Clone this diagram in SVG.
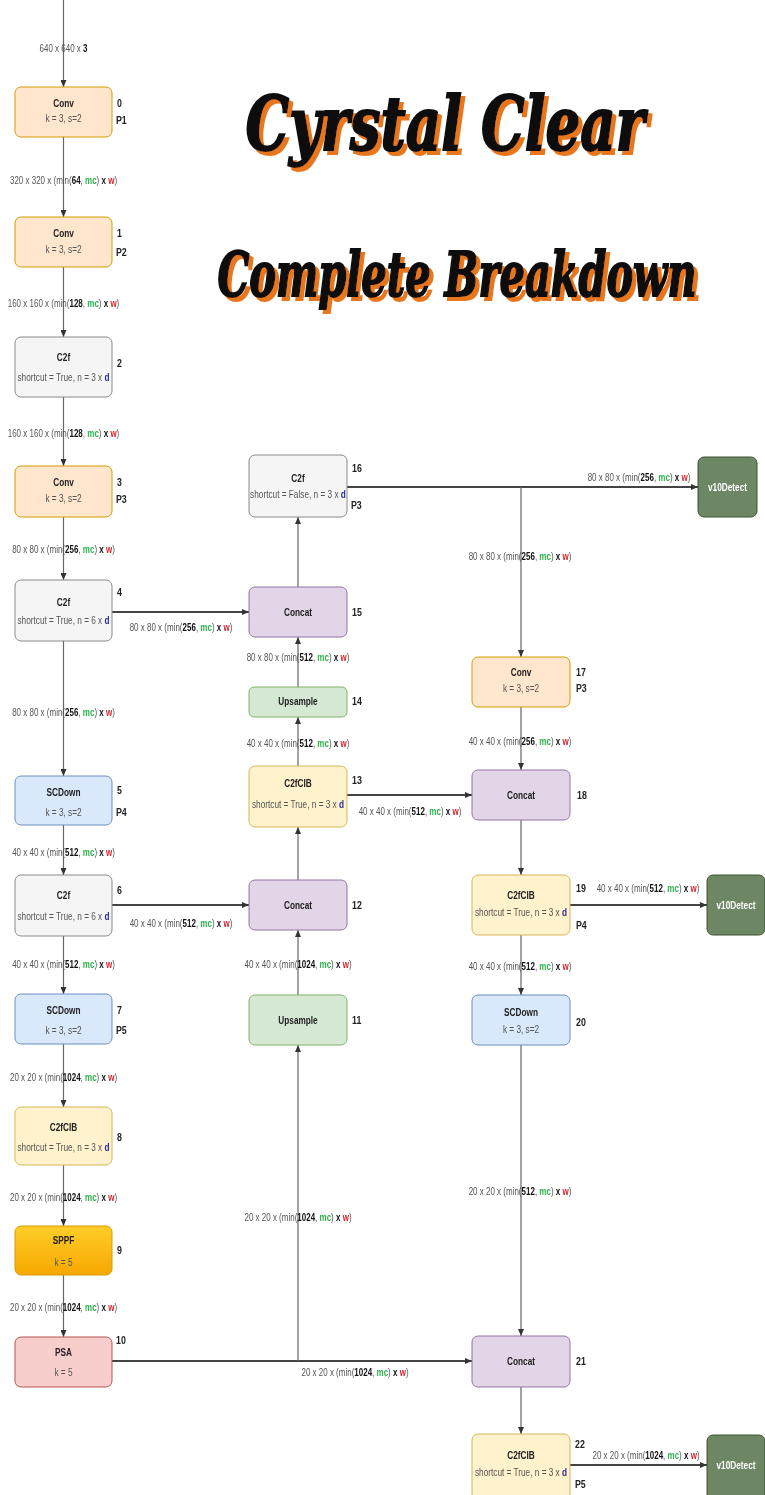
<svg xmlns="http://www.w3.org/2000/svg" width="765" height="1495" viewBox="0 0 765 1495">
<style>
text{font-family:"Liberation Sans",Arial,sans-serif}
.nt{font-size:11px;font-weight:bold;fill:#222;text-anchor:middle}
.np{font-size:11px;fill:#555;text-anchor:middle}
.ix{font-size:11px;font-weight:bold;fill:#222}
.lb{font-size:10px;fill:#555;text-anchor:middle}
.b{font-weight:bold;fill:#111}
.g{font-weight:bold;fill:#2eb34d}
.r{font-weight:bold;fill:#d8232a}
.d{font-weight:bold;fill:#2c2c9c}
.conv{fill:#ffe6cc;stroke:#d79b00}
.c2f{fill:#f5f5f5;stroke:#8a8a8a}
.scd{fill:#dae8fc;stroke:#6c8ebf}
.cib{fill:#fff2cc;stroke:#d6b656}
.sppf{fill:url(#gold);stroke:#d79b00}
.psa{fill:#f8cecc;stroke:#b85450}
.cat{fill:#e1d5e7;stroke:#9673a6}
.up{fill:#d5e8d4;stroke:#82b366}
.det{fill:#6d8764;stroke:#3a5431}
rect{stroke-width:1}
.dt{font-size:11px;font-weight:bold;fill:#fff;text-anchor:middle}
.v{stroke:#666;stroke-width:1.2;fill:none}
.h{stroke:#444;stroke-width:2;fill:none}
.title{font-family:"DejaVu Serif","Liberation Serif",serif;font-weight:bold;font-style:italic;text-anchor:middle;fill:#111;stroke:#111;stroke-width:2}
</style>
<defs>
<linearGradient id="gold" x1="0" y1="0" x2="0" y2="1"><stop offset="0" stop-color="#ffcd28"/><stop offset="1" stop-color="#f6a800"/></linearGradient>
<marker id="a" markerUnits="userSpaceOnUse" markerWidth="7" markerHeight="6" refX="7" refY="3" orient="auto"><path d="M0,0 L7,3 L0,6 z" fill="#333"/></marker>
<filter id="sh" x="-10%" y="-20%" width="120%" height="150%">
<feFlood flood-color="#e8761e"/>
<feComposite in2="SourceAlpha" operator="in"/>
<feOffset dx="4" dy="4" result="o"/>
<feMerge><feMergeNode in="o"/><feMergeNode in="SourceGraphic"/></feMerge>
</filter>
</defs>
<rect width="765" height="1495" fill="#fff"/>

<g id="title" filter="url(#sh)">
<text class="title" font-size="74" transform="translate(445 150) scale(.74 1)">Cyrstal Clear</text>
<text class="title" font-size="62" transform="translate(457 296) scale(.645 1)">Complete Breakdown</text>
</g>

<g id="connectors">
<path class="v" d="M63.5,0 V87" marker-end="url(#a)"/>
<path class="v" d="M63.5,137 V217" marker-end="url(#a)"/>
<path class="v" d="M63.5,267 V337" marker-end="url(#a)"/>
<path class="v" d="M63.5,397 V466" marker-end="url(#a)"/>
<path class="v" d="M63.5,517 V580" marker-end="url(#a)"/>
<path class="v" d="M63.5,641 V776" marker-end="url(#a)"/>
<path class="v" d="M63.5,825 V875" marker-end="url(#a)"/>
<path class="v" d="M63.5,936 V994" marker-end="url(#a)"/>
<path class="v" d="M63.5,1044 V1107" marker-end="url(#a)"/>
<path class="v" d="M63.5,1165 V1226" marker-end="url(#a)"/>
<path class="v" d="M63.5,1275 V1337" marker-end="url(#a)"/>
<path class="h" d="M112,612 H249" marker-end="url(#a)"/>
<path class="h" d="M112,905 H249" marker-end="url(#a)"/>
<path class="h" d="M112,1361 H472" marker-end="url(#a)"/>
<path class="v" d="M298,1361 V1045" marker-end="url(#a)"/>
<path class="v" d="M298,995 V930" marker-end="url(#a)"/>
<path class="v" d="M298,880 V827" marker-end="url(#a)"/>
<path class="v" d="M298,766 V717" marker-end="url(#a)"/>
<path class="v" d="M298,687 V637" marker-end="url(#a)"/>
<path class="v" d="M298,587 V517" marker-end="url(#a)"/>
<path class="h" d="M347,795 H472" marker-end="url(#a)"/>
<path class="h" d="M347,487 H698" marker-end="url(#a)"/>
<path class="v" d="M521,487 V657" marker-end="url(#a)"/>
<path class="v" d="M521,707 V770" marker-end="url(#a)"/>
<path class="v" d="M521,820 V875" marker-end="url(#a)"/>
<path class="v" d="M521,935 V995" marker-end="url(#a)"/>
<path class="v" d="M521,1045 V1336" marker-end="url(#a)"/>
<path class="v" d="M521,1387 V1434" marker-end="url(#a)"/>
<path class="h" d="M570,905 H707" marker-end="url(#a)"/>
<path class="h" d="M570,1465 H707" marker-end="url(#a)"/>

<text class="lb" transform="translate(63.5 52) scale(.8 1)">640 x 640 x <tspan class="b">3</tspan></text>
<text class="lb" transform="translate(63.5 184) scale(.8 1)">320 x 320 x (min(<tspan class="b">64</tspan>, <tspan class="g">mc</tspan>) <tspan class="b">x</tspan> <tspan class="r">w</tspan>)</text>
<text class="lb" transform="translate(63.5 307) scale(.8 1)">160 x 160 x (min(<tspan class="b">128</tspan>, <tspan class="g">mc</tspan>) <tspan class="b">x</tspan> <tspan class="r">w</tspan>)</text>
<text class="lb" transform="translate(63.5 437) scale(.8 1)">160 x 160 x (min(<tspan class="b">128</tspan>, <tspan class="g">mc</tspan>) <tspan class="b">x</tspan> <tspan class="r">w</tspan>)</text>
<text class="lb" transform="translate(63.5 553) scale(.8 1)">80 x 80 x (min(<tspan class="b">256</tspan>, <tspan class="g">mc</tspan>) <tspan class="b">x</tspan> <tspan class="r">w</tspan>)</text>
<text class="lb" transform="translate(63.5 716) scale(.8 1)">80 x 80 x (min(<tspan class="b">256</tspan>, <tspan class="g">mc</tspan>) <tspan class="b">x</tspan> <tspan class="r">w</tspan>)</text>
<text class="lb" transform="translate(63.5 856) scale(.8 1)">40 x 40 x (min(<tspan class="b">512</tspan>, <tspan class="g">mc</tspan>) <tspan class="b">x</tspan> <tspan class="r">w</tspan>)</text>
<text class="lb" transform="translate(63.5 968) scale(.8 1)">40 x 40 x (min(<tspan class="b">512</tspan>, <tspan class="g">mc</tspan>) <tspan class="b">x</tspan> <tspan class="r">w</tspan>)</text>
<text class="lb" transform="translate(63.5 1081) scale(.8 1)">20 x 20 x (min(<tspan class="b">1024</tspan>, <tspan class="g">mc</tspan>) <tspan class="b">x</tspan> <tspan class="r">w</tspan>)</text>
<text class="lb" transform="translate(63.5 1201) scale(.8 1)">20 x 20 x (min(<tspan class="b">1024</tspan>, <tspan class="g">mc</tspan>) <tspan class="b">x</tspan> <tspan class="r">w</tspan>)</text>
<text class="lb" transform="translate(63.5 1311) scale(.8 1)">20 x 20 x (min(<tspan class="b">1024</tspan>, <tspan class="g">mc</tspan>) <tspan class="b">x</tspan> <tspan class="r">w</tspan>)</text>
<text class="lb" transform="translate(181 631) scale(.8 1)">80 x 80 x (min(<tspan class="b">256</tspan>, <tspan class="g">mc</tspan>) <tspan class="b">x</tspan> <tspan class="r">w</tspan>)</text>
<text class="lb" transform="translate(181 927) scale(.8 1)">40 x 40 x (min(<tspan class="b">512</tspan>, <tspan class="g">mc</tspan>) <tspan class="b">x</tspan> <tspan class="r">w</tspan>)</text>
<text class="lb" transform="translate(355 1376) scale(.8 1)">20 x 20 x (min(<tspan class="b">1024</tspan>, <tspan class="g">mc</tspan>) <tspan class="b">x</tspan> <tspan class="r">w</tspan>)</text>
<text class="lb" transform="translate(298 661) scale(.8 1)">80 x 80 x (min(<tspan class="b">512</tspan>, <tspan class="g">mc</tspan>) <tspan class="b">x</tspan> <tspan class="r">w</tspan>)</text>
<text class="lb" transform="translate(298 747) scale(.8 1)">40 x 40 x (min(<tspan class="b">512</tspan>, <tspan class="g">mc</tspan>) <tspan class="b">x</tspan> <tspan class="r">w</tspan>)</text>
<text class="lb" transform="translate(298 968) scale(.8 1)">40 x 40 x (min(<tspan class="b">1024</tspan>, <tspan class="g">mc</tspan>) <tspan class="b">x</tspan> <tspan class="r">w</tspan>)</text>
<text class="lb" transform="translate(298 1221) scale(.8 1)">20 x 20 x (min(<tspan class="b">1024</tspan>, <tspan class="g">mc</tspan>) <tspan class="b">x</tspan> <tspan class="r">w</tspan>)</text>
<text class="lb" transform="translate(410 815) scale(.8 1)">40 x 40 x (min(<tspan class="b">512</tspan>, <tspan class="g">mc</tspan>) <tspan class="b">x</tspan> <tspan class="r">w</tspan>)</text>
<text class="lb" transform="translate(639 481) scale(.8 1)">80 x 80 x (min(<tspan class="b">256</tspan>, <tspan class="g">mc</tspan>) <tspan class="b">x</tspan> <tspan class="r">w</tspan>)</text>
<text class="lb" transform="translate(520 560) scale(.8 1)">80 x 80 x (min(<tspan class="b">256</tspan>, <tspan class="g">mc</tspan>) <tspan class="b">x</tspan> <tspan class="r">w</tspan>)</text>
<text class="lb" transform="translate(520 745) scale(.8 1)">40 x 40 x (min(<tspan class="b">256</tspan>, <tspan class="g">mc</tspan>) <tspan class="b">x</tspan> <tspan class="r">w</tspan>)</text>
<text class="lb" transform="translate(520 970) scale(.8 1)">40 x 40 x (min(<tspan class="b">512</tspan>, <tspan class="g">mc</tspan>) <tspan class="b">x</tspan> <tspan class="r">w</tspan>)</text>
<text class="lb" transform="translate(520 1195) scale(.8 1)">20 x 20 x (min(<tspan class="b">512</tspan>, <tspan class="g">mc</tspan>) <tspan class="b">x</tspan> <tspan class="r">w</tspan>)</text>
<text class="lb" transform="translate(648 892) scale(.8 1)">40 x 40 x (min(<tspan class="b">512</tspan>, <tspan class="g">mc</tspan>) <tspan class="b">x</tspan> <tspan class="r">w</tspan>)</text>
<text class="lb" transform="translate(646 1459) scale(.8 1)">20 x 20 x (min(<tspan class="b">1024</tspan>, <tspan class="g">mc</tspan>) <tspan class="b">x</tspan> <tspan class="r">w</tspan>)</text>
</g>

<g id="n0"><rect class="conv" x="15" y="87" width="97" height="50" rx="6"/><text class="nt" transform="translate(63.5 107) scale(.75 1)">Conv</text><text class="np" transform="translate(63.5 122) scale(.75 1)">k = 3, s=2</text><text class="ix" transform="translate(117 107) scale(.8 1)">0</text><text class="ix" transform="translate(116 124) scale(.8 1)">P1</text></g>
<g id="n1"><rect class="conv" x="15" y="217" width="97" height="50" rx="6"/><text class="nt" transform="translate(63.5 237) scale(.75 1)">Conv</text><text class="np" transform="translate(63.5 253) scale(.75 1)">k = 3, s=2</text><text class="ix" transform="translate(117 237) scale(.8 1)">1</text><text class="ix" transform="translate(116 256) scale(.8 1)">P2</text></g>
<g id="n2"><rect class="c2f" x="15" y="337" width="97" height="60" rx="6"/><text class="nt" transform="translate(63.5 361) scale(.75 1)">C2f</text><text class="np" transform="translate(63.5 381) scale(.75 1)">shortcut = True, n = 3 x <tspan class="d">d</tspan></text><text class="ix" transform="translate(117 367) scale(.8 1)">2</text></g>
<g id="n3"><rect class="conv" x="15" y="466" width="97" height="51" rx="6"/><text class="nt" transform="translate(63.5 486) scale(.75 1)">Conv</text><text class="np" transform="translate(63.5 502) scale(.75 1)">k = 3, s=2</text><text class="ix" transform="translate(117 486) scale(.8 1)">3</text><text class="ix" transform="translate(116 503) scale(.8 1)">P3</text></g>
<g id="n4"><rect class="c2f" x="15" y="580" width="97" height="61" rx="6"/><text class="nt" transform="translate(63.5 606) scale(.75 1)">C2f</text><text class="np" transform="translate(63.5 624) scale(.75 1)">shortcut = True, n = 6 x <tspan class="d">d</tspan></text><text class="ix" transform="translate(117 596) scale(.8 1)">4</text></g>
<g id="n5"><rect class="scd" x="15" y="776" width="97" height="49" rx="6"/><text class="nt" transform="translate(63.5 796) scale(.75 1)">SCDown</text><text class="np" transform="translate(63.5 816) scale(.75 1)">k = 3, s=2</text><text class="ix" transform="translate(117 794) scale(.8 1)">5</text><text class="ix" transform="translate(116 816) scale(.8 1)">P4</text></g>
<g id="n6"><rect class="c2f" x="15" y="875" width="97" height="61" rx="6"/><text class="nt" transform="translate(63.5 899) scale(.75 1)">C2f</text><text class="np" transform="translate(63.5 920) scale(.75 1)">shortcut = True, n = 6 x <tspan class="d">d</tspan></text><text class="ix" transform="translate(117 894) scale(.8 1)">6</text></g>
<g id="n7"><rect class="scd" x="15" y="994" width="97" height="50" rx="6"/><text class="nt" transform="translate(63.5 1014) scale(.75 1)">SCDown</text><text class="np" transform="translate(63.5 1034) scale(.75 1)">k = 3, s=2</text><text class="ix" transform="translate(117 1014) scale(.8 1)">7</text><text class="ix" transform="translate(116 1034) scale(.8 1)">P5</text></g>
<g id="n8"><rect class="cib" x="15" y="1107" width="97" height="58" rx="6"/><text class="nt" transform="translate(63.5 1131) scale(.75 1)">C2fCIB</text><text class="np" transform="translate(63.5 1151) scale(.75 1)">shortcut = True, n = 3 x <tspan class="d">d</tspan></text><text class="ix" transform="translate(117 1141) scale(.8 1)">8</text></g>
<g id="n9"><rect class="sppf" x="15" y="1226" width="97" height="49" rx="6"/><text class="nt" transform="translate(63.5 1244) scale(.75 1)">SPPF</text><text class="np" transform="translate(63.5 1266) scale(.75 1)">k = 5</text><text class="ix" transform="translate(117 1254) scale(.8 1)">9</text></g>
<g id="n10"><rect class="psa" x="15" y="1337" width="97" height="50" rx="6"/><text class="nt" transform="translate(63.5 1356) scale(.75 1)">PSA</text><text class="np" transform="translate(63.5 1376) scale(.75 1)">k = 5</text><text class="ix" transform="translate(116 1344) scale(.8 1)">10</text></g>

<g id="n11"><rect class="up" x="249" y="995" width="98" height="50" rx="6"/><text class="nt" transform="translate(298 1024) scale(.75 1)">Upsample</text><text class="ix" transform="translate(352 1024) scale(.8 1)">11</text></g>
<g id="n12"><rect class="cat" x="249" y="880" width="98" height="50" rx="6"/><text class="nt" transform="translate(298 909) scale(.75 1)">Concat</text><text class="ix" transform="translate(352 909) scale(.8 1)">12</text></g>
<g id="n13"><rect class="cib" x="249" y="766" width="98" height="61" rx="6"/><text class="nt" transform="translate(298 787) scale(.75 1)">C2fCIB</text><text class="np" transform="translate(298 808) scale(.75 1)">shortcut = True, n = 3 x <tspan class="d">d</tspan></text><text class="ix" transform="translate(352 784) scale(.8 1)">13</text></g>
<g id="n14"><rect class="up" x="249" y="687" width="98" height="30" rx="5"/><text class="nt" transform="translate(298 705) scale(.75 1)">Upsample</text><text class="ix" transform="translate(352 705) scale(.8 1)">14</text></g>
<g id="n15"><rect class="cat" x="249" y="587" width="98" height="50" rx="6"/><text class="nt" transform="translate(298 616) scale(.75 1)">Concat</text><text class="ix" transform="translate(352 616) scale(.8 1)">15</text></g>
<g id="n16"><rect class="c2f" x="249" y="455" width="98" height="62" rx="6"/><text class="nt" transform="translate(298 482) scale(.75 1)">C2f</text><text class="np" transform="translate(298 498) scale(.75 1)">shortcut = False, n = 3 x <tspan class="d">d</tspan></text><text class="ix" transform="translate(352 472) scale(.8 1)">16</text><text class="ix" transform="translate(351 509) scale(.8 1)">P3</text></g>

<g id="n17"><rect class="conv" x="472" y="657" width="98" height="50" rx="6"/><text class="nt" transform="translate(521 676) scale(.75 1)">Conv</text><text class="np" transform="translate(521 692) scale(.75 1)">k = 3, s=2</text><text class="ix" transform="translate(576 676) scale(.8 1)">17</text><text class="ix" transform="translate(576 692) scale(.8 1)">P3</text></g>
<g id="n18"><rect class="cat" x="472" y="770" width="98" height="50" rx="6"/><text class="nt" transform="translate(521 799) scale(.75 1)">Concat</text><text class="ix" transform="translate(577 799) scale(.8 1)">18</text></g>
<g id="n19"><rect class="cib" x="472" y="875" width="98" height="60" rx="6"/><text class="nt" transform="translate(521 899) scale(.75 1)">C2fCIB</text><text class="np" transform="translate(521 916) scale(.75 1)">shortcut = True, n = 3 x <tspan class="d">d</tspan></text><text class="ix" transform="translate(576 892) scale(.8 1)">19</text><text class="ix" transform="translate(576 929) scale(.8 1)">P4</text></g>
<g id="n20"><rect class="scd" x="472" y="995" width="98" height="50" rx="6"/><text class="nt" transform="translate(521 1016) scale(.75 1)">SCDown</text><text class="np" transform="translate(521 1033) scale(.75 1)">k = 3, s=2</text><text class="ix" transform="translate(576 1026) scale(.8 1)">20</text></g>
<g id="n21"><rect class="cat" x="472" y="1336" width="98" height="51" rx="6"/><text class="nt" transform="translate(521 1365) scale(.75 1)">Concat</text><text class="ix" transform="translate(576 1365) scale(.8 1)">21</text></g>
<g id="n22"><rect class="cib" x="472" y="1434" width="98" height="66" rx="6"/><text class="nt" transform="translate(521 1459) scale(.75 1)">C2fCIB</text><text class="np" transform="translate(521 1476) scale(.75 1)">shortcut = True, n = 3 x <tspan class="d">d</tspan></text><text class="ix" transform="translate(575 1448) scale(.8 1)">22</text><text class="ix" transform="translate(575 1488) scale(.8 1)">P5</text></g>

<g id="det1"><rect class="det" x="698" y="457" width="59" height="60" rx="6"/><text class="dt" transform="translate(727.5 491) scale(.75 1)">v10Detect</text></g>
<g id="det2"><rect class="det" x="707" y="875" width="58" height="60" rx="6"/><text class="dt" transform="translate(736 909) scale(.75 1)">v10Detect</text></g>
<g id="det3"><rect class="det" x="707" y="1435" width="58" height="66" rx="6"/><text class="dt" transform="translate(736 1469) scale(.75 1)">v10Detect</text></g>
</svg>
